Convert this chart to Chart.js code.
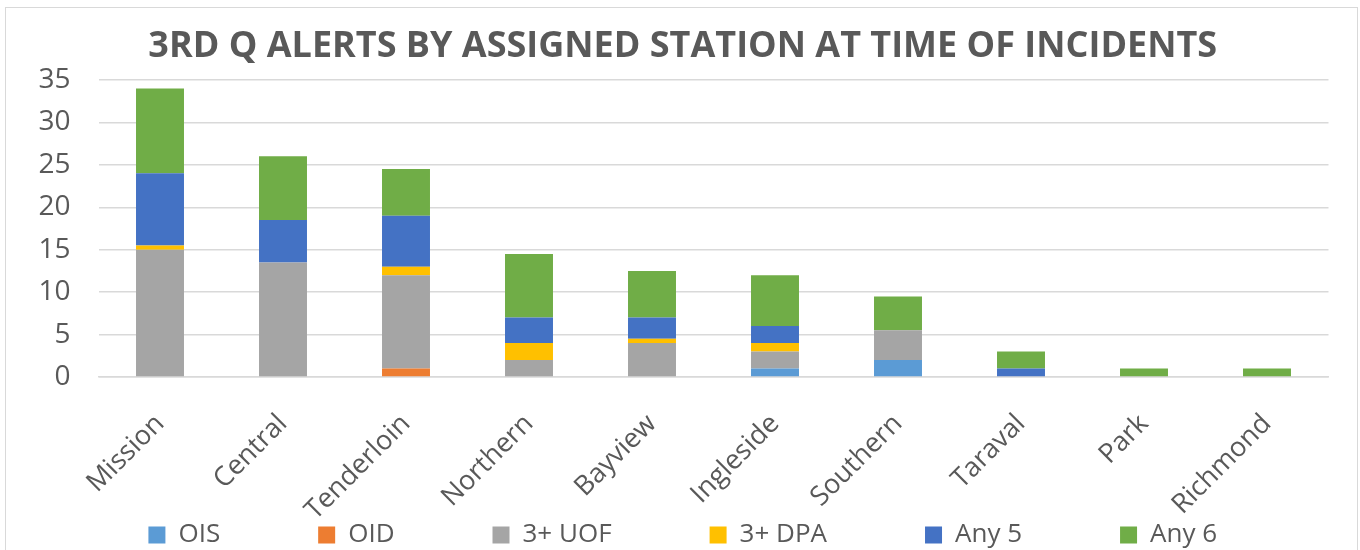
<!DOCTYPE html>
<html>
<head>
<meta charset="utf-8">
<script src="https://cdn.jsdelivr.net/npm/chart.js@4/dist/chart.umd.min.js"></script>
<style>
  html, body { margin: 0; padding: 0; background: #fff; }
  #frame { position: absolute; left: 5px; top: 7px; width: 1351px; height: 600px; border: 1px solid #d9d9d9; }
  #wrap { position: absolute; left: 0; top: 0; width: 1360px; height: 550px; }
</style>
</head>
<body>
<div id="frame"></div>
<div id="wrap"><canvas id="chart" width="1360" height="550"></canvas></div>
<script>
// stations, left to right
const stations = ["Mission", "Central", "Tenderloin", "Northern", "Bayview",
  "Ingleside", "Southern", "Taraval", "Park", "Richmond"];

// alert counts per station
const ois  = [0, 0, 0, 0, 0, 1, 2, 0, 0, 0];
const oid  = [0, 0, 1, 0, 0, 0, 0, 0, 0, 0];
const uof  = [15, 13.5, 11, 2, 4, 2, 3.5, 0, 0, 0];
const dpa  = [0.5, 0, 1, 2, 0.5, 1, 0, 0, 0, 0];
const any5 = [8.5, 5, 6, 3, 2.5, 2, 0, 1, 0, 0];
const any6 = [10, 7.5, 5.5, 7.5, 5.5, 6, 4, 2, 1, 1];

const yMax = 35;
const yStep = 5;

const textColor = "#595959";
const gridColor = "#d9d9d9";
const font = "'Open Sans', 'Noto Sans', sans-serif";

function series(label, data, color) {
  return { label: label, data: data, backgroundColor: color, borderWidth: 0 };
}

// the rotated station names hang below the x axis box, so let them draw past it
const labelRoom = {
  id: "labelRoom",
  afterLayout(chart) {
    chart.scales.x.bottom = chart.height;
  },
};

const ctx = document.getElementById("chart").getContext("2d");
new Chart(ctx, {
  type: "bar",
  data: {
    labels: stations,
    datasets: [
      series("OIS", ois, "#5b9bd5"),
      series("OID", oid, "#ed7d31"),
      series("3+ UOF", uof, "#a5a5a5"),
      series("3+ DPA", dpa, "#ffc000"),
      series("Any 5", any5, "#4472c4"),
      series("Any 6", any6, "#70ad47"),
    ],
  },
  plugins: [labelRoom],
  options: {
    responsive: false,
    animation: false,
    barPercentage: 0.39,
    categoryPercentage: 1,
    layout: {
      autoPadding: false,
      padding: { top: 10, left: 37, right: 31.5, bottom: 0 },
    },
    plugins: {
      title: {
        display: true,
        text: "3RD Q ALERTS BY ASSIGNED STATION AT TIME OF INCIDENTS",
        color: textColor,
        font: { family: font, size: 36, weight: "bold", lineHeight: 1.2 },
        padding: { top: 15, bottom: 11.8 },
      },
      legend: {
        position: "bottom",
        maxHeight: 126,
        labels: {
          color: textColor,
          font: { family: font, size: 26 },
          boxWidth: 17,
          boxHeight: 17,
          padding: 98,
        },
      },
      tooltip: { enabled: false },
    },
    scales: {
      x: {
        stacked: true,
        afterFit: function (scale) { scale.height = 47; },
        grid: { display: false, drawTicks: false },
        border: { color: gridColor, width: 1.5 },
        ticks: {
          color: textColor,
          font: { family: font, size: 27 },
          minRotation: 45,
          maxRotation: 45,
          autoSkip: false,
          padding: 31,
        },
      },
      y: {
        stacked: true,
        min: 0,
        max: yMax,
        afterFit: function (scale) { scale.width = 61.5; },
        grid: { color: gridColor, lineWidth: 1.5, drawTicks: false },
        border: { display: false },
        ticks: {
          stepSize: yStep,
          color: textColor,
          font: { family: font, size: 28 },
          padding: 28,
        },
      },
    },
  },
});
</script>
</body>
</html>
